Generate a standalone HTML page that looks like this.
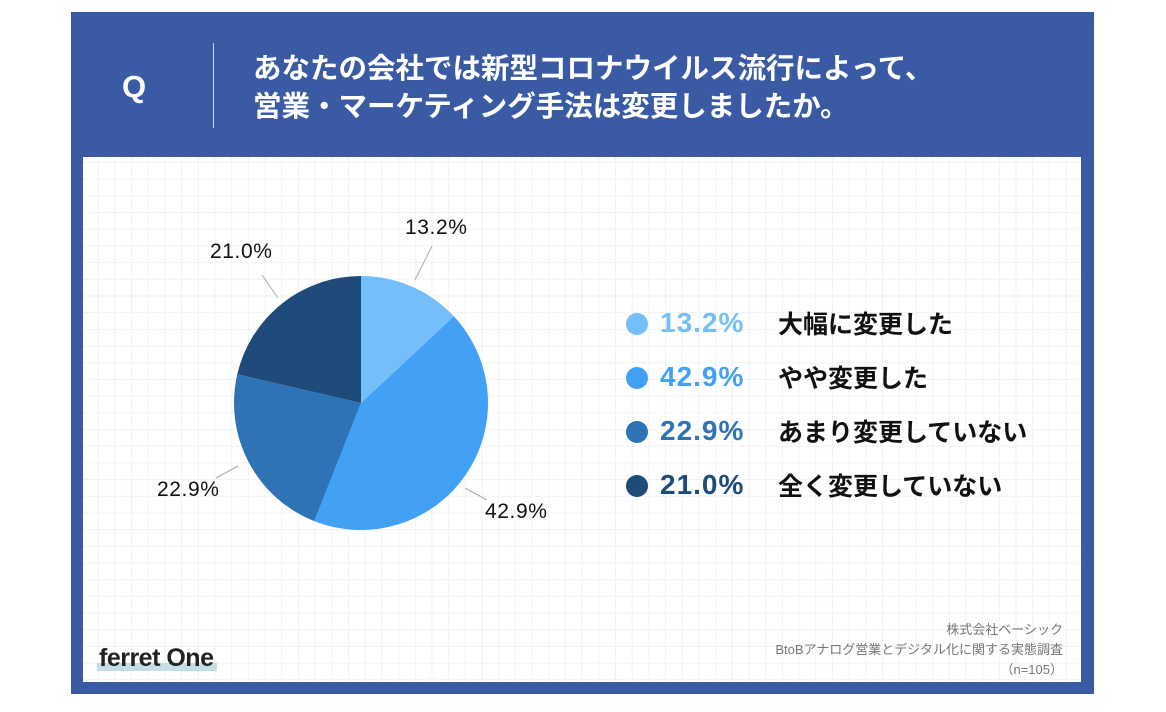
<!DOCTYPE html>
<html><head><meta charset="utf-8"><style>
body{margin:0;width:1166px;height:712px;background:#fff;position:relative;overflow:hidden;font-family:"Liberation Sans","Noto Sans CJK JP",sans-serif}
.frame{position:absolute;left:71px;top:12px;width:1023px;height:682px;background:#3a5ba4}
.panel{position:absolute;left:83px;top:157px;width:998px;height:525px;background-color:#fff;
background-image:linear-gradient(#f0f2f5 1px,transparent 1px),linear-gradient(90deg,#f0f2f5 1px,transparent 1px);background-size:16.7px 16.7px;background-position:-2px 5px}
.t{position:absolute;white-space:nowrap}
</style></head><body>
<div class="frame"></div>
<div class="panel"></div>
<div class="t" style="left:122px;top:69px;color:#fff;font-weight:bold;font-size:31px">Q</div>
<div style="position:absolute;left:213px;top:43px;width:1px;height:85px;background:#c9d3ea"></div>
<div class="t" style="left:253px;top:50px;color:#fff;font-weight:bold;font-size:28.5px;line-height:38px">あなたの会社では新型コロナウイルス流行によって、<br>営業・マーケティング手法は変更しましたか。</div>
<svg style="position:absolute;left:0;top:0" width="1166" height="712">
<g transform="translate(361,403)">
<path d="M0 0 L0 -127 A127 127 0 0 1 92.9 -86.6 Z" fill="#74bef9"/>
<path d="M0 0 L92.9 -86.6 A127 127 0 0 1 -46.7 118.1 Z" fill="#42a0f5"/>
<path d="M0 0 L-46.7 118.1 A127 127 0 0 1 -123.7 -28.7 Z" fill="#2e73b5"/>
<path d="M0 0 L-123.7 -28.7 A127 127 0 0 1 0 -127 Z" fill="#1e4b7a"/>
</g>
<g stroke="#aaa" stroke-width="1" fill="none">
<line x1="415" y1="280" x2="432" y2="246"/>
<line x1="278" y1="298" x2="262" y2="275"/>
<line x1="238" y1="466" x2="216" y2="478"/>
<line x1="465" y1="488" x2="487" y2="500"/>
</g>
<circle cx="637" cy="324" r="11" fill="#74bef9"/>
<circle cx="637" cy="378" r="11" fill="#42a0f5"/>
<circle cx="637" cy="432" r="11" fill="#2e73b5"/>
<circle cx="637" cy="486" r="11" fill="#1e4b7a"/>
</svg>
<div class="t" style="left:405px;top:216px;font-size:21px;letter-spacing:0.6px;color:#111">13.2%</div>
<div class="t" style="left:210px;top:240px;font-size:21px;letter-spacing:0.6px;color:#111">21.0%</div>
<div class="t" style="left:157px;top:478px;font-size:21px;letter-spacing:0.6px;color:#111">22.9%</div>
<div class="t" style="left:485px;top:500px;font-size:21px;letter-spacing:0.6px;color:#111">42.9%</div>
<div class="t" style="left:660px;top:307px;font-size:28px;letter-spacing:1px;font-weight:bold;color:#74bef9">13.2%</div>
<div class="t" style="left:660px;top:361px;font-size:28px;letter-spacing:1px;font-weight:bold;color:#42a0f5">42.9%</div>
<div class="t" style="left:660px;top:415px;font-size:28px;letter-spacing:1px;font-weight:bold;color:#2e73b5">22.9%</div>
<div class="t" style="left:660px;top:469px;font-size:28px;letter-spacing:1px;font-weight:bold;color:#1e4b7a">21.0%</div>
<div class="t" style="left:778px;top:305px;font-size:25px;font-weight:bold;color:#111">大幅に変更した</div>
<div class="t" style="left:778px;top:359px;font-size:25px;font-weight:bold;color:#111">やや変更した</div>
<div class="t" style="left:778px;top:413px;font-size:25px;font-weight:bold;color:#111">あまり変更していない</div>
<div class="t" style="left:778px;top:467px;font-size:25px;font-weight:bold;color:#111">全く変更していない</div>
<div style="position:absolute;left:97px;top:663px;width:120px;height:8px;background:#c5dde6"></div>
<div class="t" style="left:99px;top:644px;font-size:25px;font-weight:bold;color:#222;letter-spacing:-0.5px">ferret One</div>
<div class="t" style="right:103px;top:620px;font-size:13px;color:#777;text-align:right;line-height:20px">株式会社ベーシック<br>BtoBアナログ営業とデジタル化に関する実態調査<br>（n=105）</div>
</body></html>
